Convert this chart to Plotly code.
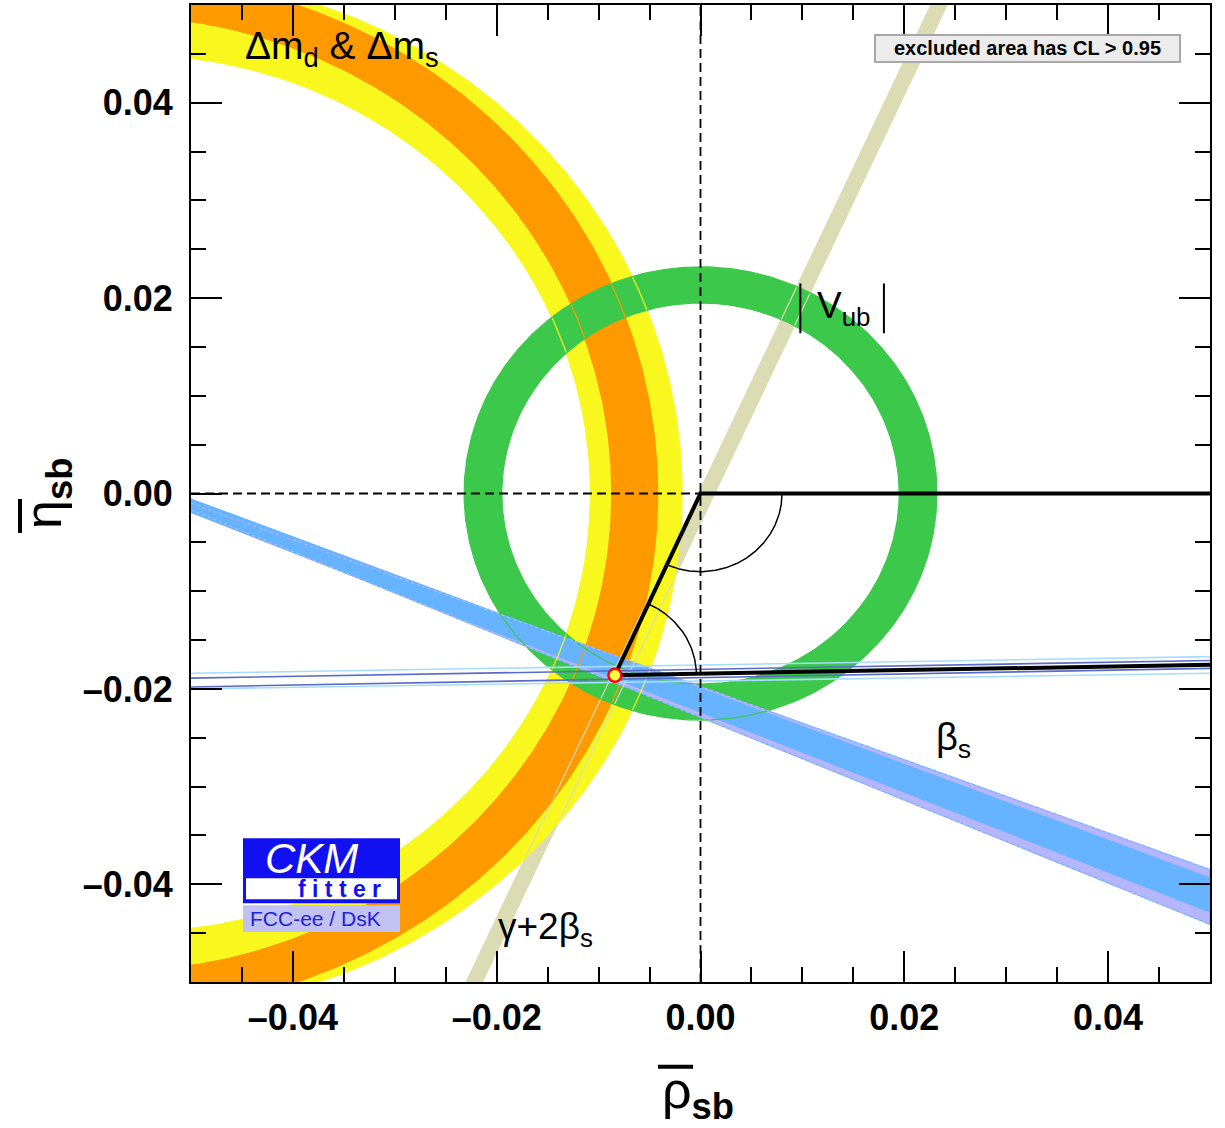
import numpy as np
import plotly.graph_objects as go

# ---------------- axes ----------------
rho_range = [-0.05, 0.05]
eta_range = [-0.05, 0.05]
tick_vals = [-0.04, -0.02, 0.0, 0.02, 0.04]
tick_text = ["\u20130.04", "\u20130.02", "0.00", "0.02", "0.04"]

# ---------------- fit results ----------------
# apex of the (rho_sb, eta_sb) triangle
apex_rho = -0.0084
apex_eta = -0.0186
# far vertex of the triangle
base_rho = 1.0
base_eta = 0.0

# Delta m_d & Delta m_s: circle edges centred on the rho axis [inner, outer]
dm_wide_center = [-0.0557, -0.0547]
dm_wide_radius = [0.0449, 0.0529]
dm_core_center = [-0.0576, -0.0572]
dm_core_radius = [0.0489, 0.0530]

# |V_ub| ring around the origin [inner, outer]
vub_radius = [0.0195, 0.0232]

# gamma + 2 beta_s band: rho of both edges at eta = -0.05 / +0.05
gam_eta = [-0.05, 0.05]
gam_left = [-0.0230, 0.0226]
gam_right = [-0.0214, 0.0242]

# beta_s wedges: eta of both edges at rho = -0.05 / +0.05
bs_rho = [-0.05, 0.05]
bs_wide_upper = [-0.0010, -0.0385]
bs_wide_lower = [-0.0017, -0.0441]
bs_core_upper = [-0.0005, -0.0393]
bs_core_lower = [-0.0020, -0.0429]

# narrow beta_s band contours (eta at rho = -0.05 / +0.05)
bsn_outer_upper = [-0.0184, -0.0167]
bsn_outer_lower = [-0.0200, -0.0184]
bsn_inner_upper = [-0.0189, -0.0171]
bsn_inner_lower = [-0.0198, -0.0179]

# angle markers
arc_radius = 0.008

# ---------------- colours ----------------
YELLOW = "#f8f81e"
ORANGE = "#ff9900"
GREEN = "#3cc84a"
BEIGE = "#dcdcb4"
BLUE = "#66b3ff"
LAVENDER = "#b6b6ff"
LIGHTBLUE = "#a6dcff"
SLATE = "#5a6ac8"
FONT = "Liberation Sans, Arial, sans-serif"


def circle(c, r, a0, a1, n=500):
    t = np.radians(np.linspace(a0, a1, n))
    return c + r * np.cos(t), r * np.sin(t)


def ring(centers, radii, a=130):
    xo, yo = circle(centers[1], radii[1], -a, a)
    xi, yi = circle(centers[0], radii[0], a, -a)
    return np.r_[xo, xi, xo[0]], np.r_[yo, yi, yo[0]]


def band(xs, lo, hi):
    return [xs[0], xs[1], xs[1], xs[0], xs[0]], [lo[0], lo[1], hi[1], hi[0], lo[0]]


fig = go.Figure()


def fill(x, y, color, line_color=None, line_width=0):
    fig.add_trace(go.Scatter(
        x=x, y=y, mode="lines", fill="toself", fillcolor=color,
        line=dict(color=line_color or color, width=line_width),
        hoverinfo="skip", showlegend=False))


def line(x, y, color, width=1.2, dash=None):
    fig.add_trace(go.Scatter(
        x=x, y=y, mode="lines",
        line=dict(color=color, width=width, dash=dash),
        hoverinfo="skip", showlegend=False))


# gamma + 2 beta_s
gx = [gam_left[0], gam_right[0], gam_right[1], gam_left[1], gam_left[0]]
gy = [gam_eta[0], gam_eta[0], gam_eta[1], gam_eta[1], gam_eta[0]]
fill(gx, gy, BEIGE)

# Delta m_d & Delta m_s
fill(*ring(dm_wide_center, dm_wide_radius), YELLOW)
fill(*ring(dm_core_center, dm_core_radius), ORANGE)

# |V_ub|
xo, yo = circle(0.0, vub_radius[1], 0, 360)
xi, yi = circle(0.0, vub_radius[0], 360, 0)
fill(np.r_[xo, xi, xo[0]], np.r_[yo, yi, yo[0]], GREEN)

# beta_s wedges
fill(*band(bs_rho, bs_wide_lower, bs_wide_upper), LAVENDER, BLUE, 1.2)
fill(*band(bs_rho, bs_core_lower, bs_core_upper), BLUE)

# contours drawn over every filled region
line(gam_left, gam_eta, BEIGE)
line(gam_right, gam_eta, BEIGE)
for c, r in zip(dm_wide_center, dm_wide_radius):
    line(*circle(c, r, -130, 130), YELLOW)
for c, r in zip(dm_core_center, dm_core_radius):
    line(*circle(c, r, -130, 130), ORANGE)
for r in vub_radius:
    line(*circle(0.0, r, 0, 360), GREEN)
line(bs_rho, bs_wide_upper, LAVENDER, 1.2, "dot")
line(bs_rho, bs_wide_lower, LAVENDER, 1.2, "dot")

# narrow beta_s band
line(bs_rho, bsn_outer_upper, LIGHTBLUE, 1.6)
line(bs_rho, bsn_outer_lower, LIGHTBLUE, 1.6)
line(bs_rho, bsn_inner_upper, SLATE, 1.6)
line(bs_rho, bsn_inner_lower, SLATE, 1.6)

# dashed axes through the origin
line([0.0, 0.0], eta_range, "black", 1.8, "9px,5px")
line([rho_range[0], 0.0], [0.0, 0.0], "black", 1.8, "9px,5px")

# triangle
line([base_rho, 0.0, apex_rho, base_rho], [base_eta, 0.0, apex_eta, base_eta], "black", 4)

# angle arcs
a_apex = np.degrees(np.arctan2(apex_eta, apex_rho))
line(*circle(0.0, arc_radius, 0.0, a_apex), "black", 1.5)
a_top = np.degrees(np.arctan2(-apex_eta, -apex_rho))
a_base = np.degrees(np.arctan2(base_eta - apex_eta, base_rho - apex_rho))
ax_, ay_ = circle(0.0, arc_radius, a_top, a_base)
line(ax_ + apex_rho, ay_ + apex_eta, "black", 1.5)

# best-fit point
fig.add_trace(go.Scatter(
    x=[apex_rho], y=[apex_eta], mode="markers",
    marker=dict(size=13, color="#ffff40", line=dict(color="#ff0000", width=2.5)),
    hoverinfo="skip", showlegend=False))

# ---------------- text ----------------
def label(x, y, text, size=36, **kw):
    fig.add_annotation(x=x, y=y, text=text, showarrow=False,
                       xanchor="center", yanchor="middle",
                       font=dict(family=FONT, size=size, color="black"), **kw)


label(-0.0352, 0.0455, "\u0394m<sub>d</sub> &amp; \u0394m<sub>s</sub>", size=39)
label(0.0141, 0.0190, "V<sub>ub</sub>", size=37)
label(0.0248, -0.0252, "\u03b2<sub>s</sub>", size=38)
label(-0.0152, -0.0446, "\u03b3+2\u03b2<sub>s</sub>", size=37)

W, H = 1225, 1128
ML, MR, MT, MB = 191, 15, 3, 146
PW, PH = W - ML - MR, H - MT - MB


def px(xp):
    return (xp - ML) / PW


def py(yp):
    return (H - MB - yp) / PH


shapes = []
# absolute-value bars around V_ub
for xb in (0.0098, 0.0180):
    shapes.append(dict(type="line", xref="x", yref="y", x0=xb, x1=xb,
                       y0=0.0164, y1=0.0215, line=dict(color="black", width=2)))

# legend note box
shapes.append(dict(type="rect", xref="paper", yref="paper",
                   x0=px(875), x1=px(1180), y0=py(60), y1=py(33),
                   fillcolor="#ececec", line=dict(color="#a8a8a8", width=2), layer="above"))


def ptext(x, y, text, size, color="black", **kw):
    fig.add_annotation(xref="paper", yref="paper", x=px(x), y=py(y), text=text,
                       showarrow=False, xanchor="center", yanchor="middle",
                       font=dict(family=FONT, size=size, color=color), **kw)


ptext(1027, 46.5, "<b>excluded area has CL &gt; 0.95</b>", 20)

# CKMfitter logo
shapes.append(dict(type="rect", xref="paper", yref="paper",
                   x0=px(243), x1=px(400), y0=py(903), y1=py(838),
                   fillcolor="#1010f0", line=dict(width=0), layer="above"))
shapes.append(dict(type="rect", xref="paper", yref="paper",
                   x0=px(246), x1=px(397), y0=py(899), y1=py(878),
                   fillcolor="white", line=dict(width=0), layer="above"))
shapes.append(dict(type="rect", xref="paper", yref="paper",
                   x0=px(243), x1=px(400), y0=py(932), y1=py(905),
                   fillcolor="#c2c2f2", line=dict(width=0), layer="above"))
ptext(311, 858, "<i>CKM</i>", 42, "white")
ptext(339, 889, "<b>f i t t e r</b>", 23, "#1010f0")
ptext(315, 918, "FCC-ee / DsK", 21, "#2020e0")

# axis titles with overbars
ptext(698, 1094, "\u03c1<sub><b>sb</b></sub>", 52)
ptext(47, 493, "\u03b7<sub><b>sb</b></sub>", 52, textangle=-90)
shapes.append(dict(type="line", xref="paper", yref="paper",
                   x0=px(658), x1=px(693), y0=py(1067), y1=py(1067),
                   line=dict(color="black", width=4)))
shapes.append(dict(type="line", xref="paper", yref="paper",
                   x0=px(20), x1=px(20), y0=py(498), y1=py(532),
                   line=dict(color="black", width=4)))

axis_common = dict(
    showline=True, linecolor="black", linewidth=2, mirror="ticks",
    ticks="inside", ticklen=31, tickwidth=2, tickcolor="black",
    tickmode="array", tickvals=tick_vals, ticktext=tick_text,
    tickfont=dict(family=FONT, size=36, color="black", weight="bold"),
    minor=dict(ticks="inside", ticklen=15, tickwidth=2, tickcolor="black",
               tickmode="linear", tick0=0, dtick=0.005),
    showgrid=False, zeroline=False,
)

fig.update_layout(
    width=W, height=H,
    margin=dict(l=ML, r=MR, t=MT, b=MB),
    paper_bgcolor="white", plot_bgcolor="white",
    xaxis=dict(range=rho_range, ticklabelstandoff=3, **axis_common),
    yaxis=dict(range=eta_range, ticklabelstandoff=9, **axis_common),
    shapes=shapes,
    showlegend=False,
)

fig.write_html("out.html")
